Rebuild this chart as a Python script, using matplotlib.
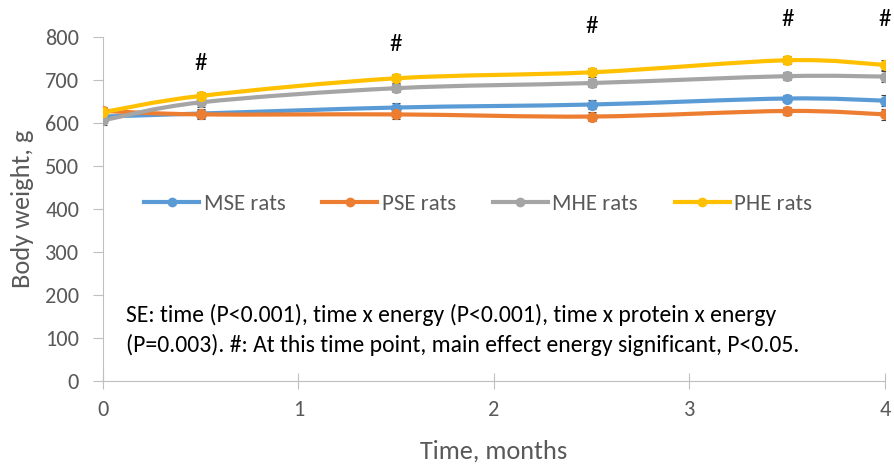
#!/usr/bin/env python3
"""body weight over time per diet group"""
import matplotlib
matplotlib.use("Agg")
import matplotlib.pyplot as plt
from matplotlib.path import Path
from matplotlib.patches import PathPatch

time_months = [0, 0.5, 1.5, 2.5, 3.5, 4]
mse_rats = [615, 622, 636, 643, 657, 652]
pse_rats = [628, 620, 620, 615, 628, 620]
mhe_rats = [606, 648, 681, 693, 709, 708]
phe_rats = [625, 663, 704, 718, 746, 735]
se_err = [10, 10, 10, 10, 9, 12]
hash_x = [0.5, 1.5, 2.5, 3.5, 4]
hash_y = [738, 782, 824, 840, 840]

series = [
    ("MSE rats", mse_rats, "#5B9BD5"),
    ("PSE rats", pse_rats, "#ED7D31"),
    ("MHE rats", mhe_rats, "#A5A5A5"),
    ("PHE rats", phe_rats, "#FFC000"),
]

plt.rcParams['font.family'] = ['Carlito', 'Open Sans', 'DejaVu Sans']
txt = "#595959"
axcol = "#BFBFBF"


def smooth_path(x, y):
    """catmull-rom style bezier through the points (like excel smoothed lines)"""
    verts = [(x[0], y[0])]
    codes = [Path.MOVETO]
    n = len(x)
    for i in range(n - 1):
        x0, y0 = (x[i - 1], y[i - 1]) if i > 0 else (x[i], y[i])
        x3, y3 = (x[i + 2], y[i + 2]) if i + 2 < n else (x[i + 1], y[i + 1])
        x1, y1 = x[i], y[i]
        x2, y2 = x[i + 1], y[i + 1]
        c1 = (x1 + (x2 - x0) / 6, y1 + (y2 - y0) / 6)
        c2 = (x2 - (x3 - x1) / 6, y2 - (y3 - y1) / 6)
        verts += [c1, c2, (x2, y2)]
        codes += [Path.CURVE4] * 3
    return Path(verts, codes)


fig = plt.figure(figsize=(8.94, 4.69), dpi=100)
ax = fig.add_axes([0.115, 0.188, 0.875, 0.733])

for label, vals, col in series:
    ax.add_patch(PathPatch(smooth_path(time_months, vals), facecolor='none',
                           edgecolor=col, lw=3, zorder=3))
    ax.errorbar(time_months, vals, yerr=se_err, fmt='none', ecolor='#404040',
                elinewidth=0.8, capsize=3, capthick=0.8, zorder=2)
    ax.plot(time_months, vals, 'o', color=col, ms=7, zorder=4)
    ax.plot([], [], '-o', color=col, lw=3, ms=6, label=label)

for hx, hy in zip(hash_x, hash_y):
    ax.text(hx, hy, "#", ha='center', va='center', fontsize=18,
            color='black', clip_on=False)

ax.set_xlim(0, 4)
ax.set_ylim(0, 800)
ax.set_xticks([0, 1, 2, 3, 4])
ax.set_yticks(range(0, 801, 100))
ax.set_xlabel("Time, months", fontsize=19, color=txt, labelpad=14)
ax.set_ylabel("Body weight, g", fontsize=19, color=txt, labelpad=8)
ax.tick_params(colors=txt, labelsize=16, length=7, color=axcol)
ax.tick_params(axis='y', direction='out', pad=10)
ax.tick_params(axis='x', direction='inout', length=12, pad=8)
for s in ['top', 'right']:
    ax.spines[s].set_visible(False)
for s in ['left', 'bottom']:
    ax.spines[s].set_color(axcol)

ax.legend(loc='center', bbox_to_anchor=(0.48, 0.515), ncol=4, frameon=False,
          fontsize=16.5, labelcolor=txt, handlelength=2.4, columnspacing=1.6,
          handletextpad=0.2)

ax.text(0.03, 0.148, "SE: time (P<0.001), time x energy (P<0.001), time x protein x energy\n"
        "(P=0.003). #: At this time point, main effect energy significant, P<0.05.",
        transform=ax.transAxes, fontsize=17, color='black', va='center',
        linespacing=1.45)

fig.savefig("out.png", dpi=100)
